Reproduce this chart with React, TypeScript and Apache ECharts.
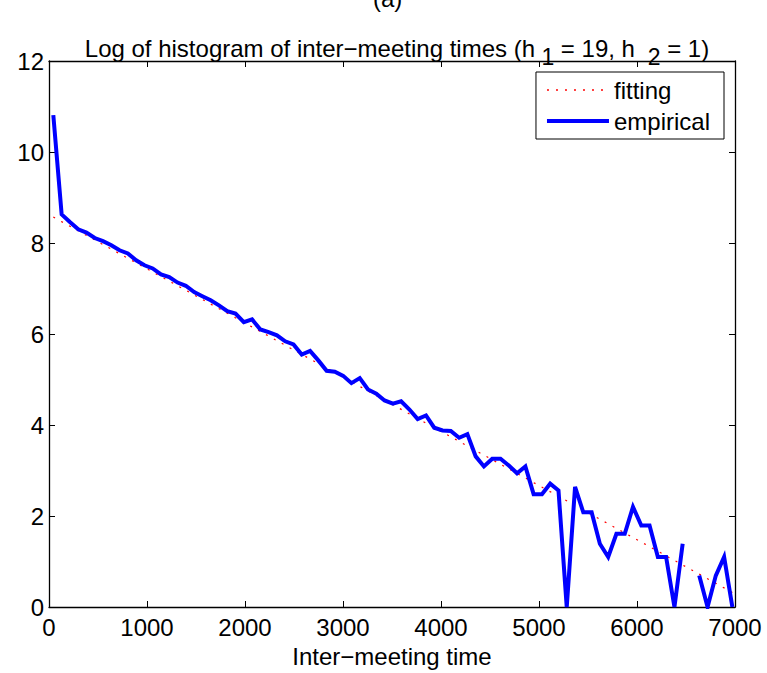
import React, { useEffect, useRef } from "react";
import * as echarts from "echarts";

// Bin centres (inter-meeting time) of the histogram
const binCenters: number[] = [
  44, 129, 213, 298, 382, 467, 551, 636, 720, 805,
  889, 974, 1058, 1143, 1227, 1312, 1396, 1481, 1565, 1650,
  1734, 1819, 1903, 1988, 2072, 2157, 2241, 2326, 2410, 2495,
  2579, 2664, 2748, 2833, 2917, 3002, 3086, 3171, 3255, 3340,
  3424, 3509, 3593, 3678, 3762, 3847, 3931, 4016, 4100, 4185,
  4269, 4354, 4438, 4523, 4607, 4692, 4776, 4861, 4945, 5030,
  5114, 5199, 5283, 5368, 5452, 5537, 5621, 5706, 5790, 5875,
  5959, 6044, 6128, 6213, 6297, 6382, 6466, 6551, 6635, 6720,
  6804, 6889, 6973,
];

// log of histogram counts (null = empty bin, log undefined)
const empirical: (number | null)[] = [
  10.81, 8.63, 8.46, 8.3, 8.23, 8.11, 8.04, 7.95, 7.84, 7.77,
  7.62, 7.51, 7.44, 7.31, 7.25, 7.13, 7.06, 6.92, 6.83, 6.74,
  6.63, 6.5, 6.45, 6.26, 6.32, 6.1, 6.04, 5.97, 5.84, 5.77,
  5.55, 5.63, 5.42, 5.19, 5.17, 5.08, 4.92, 5.03, 4.78, 4.69,
  4.54, 4.47, 4.52, 4.34, 4.13, 4.21, 3.94, 3.88, 3.87, 3.72,
  3.8, 3.31, 3.09, 3.26, 3.26, 3.11, 2.94, 3.09, 2.48, 2.48,
  2.71, 2.56, 0, 2.64, 2.08, 2.08, 1.39, 1.1, 1.61, 1.61,
  2.2, 1.79, 1.79, 1.1, 1.1, 0, 1.39, null, 0.69, 0,
  0.69, 1.1, 0,
];

// straight-line fit (end points)
const fitX: number[] = [44, 6973];
const fitY: number[] = [8.57, 0.32];

const xTicks = { min: 0, max: 7000, interval: 1000 };
const yTicks = { min: 0, max: 12, interval: 2 };

const FONT = "'Liberation Sans', Arial, Helvetica, sans-serif";

export default function App() {
  const ref = useRef<HTMLDivElement>(null);

  useEffect(() => {
    if (!ref.current) return;
    const chart = echarts.init(ref.current, undefined, { renderer: "svg" });

    const empData = binCenters.map((x, i) => [x, empirical[i] === null ? "-" : empirical[i]]);
    const fitData = fitX.map((x, i) => [x, fitY[i]]);

    const axisCommon = {
      axisLine: { show: true, onZero: false, lineStyle: { color: "#000", width: 1.3 } },
      axisTick: { show: true, inside: true, length: 6, lineStyle: { color: "#000", width: 1 } },
      splitLine: { show: false },
    };

    chart.setOption({
      animation: false,
      backgroundColor: "#fff",
      textStyle: { fontFamily: FONT },
      title: {
        text:
          "{n|Log of histogram of inter\u2212meeting times (h}{s| 1}{n| = 19, h}{s|  2}{n| = 1)}",
        left: 392,
        top: 31,
        textAlign: "center",
        textStyle: {
          fontWeight: "normal",
          rich: {
            n: {
              fontSize: 24,
              fontFamily: FONT,
              fontWeight: "normal",
              color: "#000",
              verticalAlign: "top",
            },
            s: {
              fontSize: 23,
              fontFamily: FONT,
              fontWeight: "normal",
              color: "#000",
              lineHeight: 32,
              verticalAlign: "bottom",
            },
          },
        },
      },
      graphic: [
        {
          type: "text",
          left: 373,
          top: -14,
          style: { text: "(a)", fontSize: 24, fontFamily: FONT, fill: "#000" },
        },
      ],
      legend: {
        orient: "vertical",
        right: 43,
        top: 72,
        padding: [6, 14, 6, 9],
        itemGap: 7,
        itemWidth: 62,
        itemHeight: 14,
        borderColor: "#000",
        borderWidth: 1,
        backgroundColor: "#fff",
        textStyle: { fontSize: 24, fontFamily: FONT, color: "#000", lineHeight: 24 },
        data: [
          {
            name: "fitting",
            itemStyle: { opacity: 0 },
            lineStyle: { color: "#ff0000", width: 1.5, type: [2, 7] },
          },
          {
            name: "empirical",
            itemStyle: { opacity: 0 },
            lineStyle: { color: "#0000ff", width: 4 },
          },
        ],
      },
      grid: { left: 49, right: 32, top: 61, bottom: 66, containLabel: false },
      xAxis: [
        {
          type: "value",
          ...xTicks,
          position: "bottom",
          ...axisCommon,
          axisLabel: {
            fontSize: 24,
            color: "#000",
            fontFamily: FONT,
            margin: 8,
            formatter: (v: number) => String(v),
          },
          name: "Inter\u2212meeting time",
          nameLocation: "middle",
          nameGap: 37,
          nameTextStyle: { fontSize: 24, color: "#000", fontFamily: FONT },
        },
        {
          type: "value",
          ...xTicks,
          position: "top",
          ...axisCommon,
          axisLabel: { show: false },
        },
      ],
      yAxis: [
        {
          type: "value",
          ...yTicks,
          position: "left",
          ...axisCommon,
          axisLabel: {
            fontSize: 24,
            color: "#000",
            fontFamily: FONT,
            margin: 5,
            formatter: (v: number) => String(v),
          },
        },
        {
          type: "value",
          ...yTicks,
          position: "right",
          ...axisCommon,
          axisLabel: { show: false },
        },
      ],
      series: [
        {
          name: "fitting",
          type: "line",
          data: fitData,
          showSymbol: false,
          symbol: "none",
          lineStyle: { color: "#ff0000", width: 1.2, type: [2, 7] },
          itemStyle: { color: "#ff0000" },
          z: 2,
        },
        {
          name: "empirical",
          type: "line",
          data: empData,
          showSymbol: false,
          symbol: "none",
          connectNulls: false,
          lineStyle: { color: "#0000ff", width: 4, join: "miter" },
          itemStyle: { color: "#0000ff" },
          z: 3,
        },
      ],
    });

    return () => chart.dispose();
  }, []);

  return (
    <div
      ref={ref}
      style={{ position: "fixed", left: 0, top: 0, width: 767, height: 673, background: "#fff" }}
    />
  );
}
